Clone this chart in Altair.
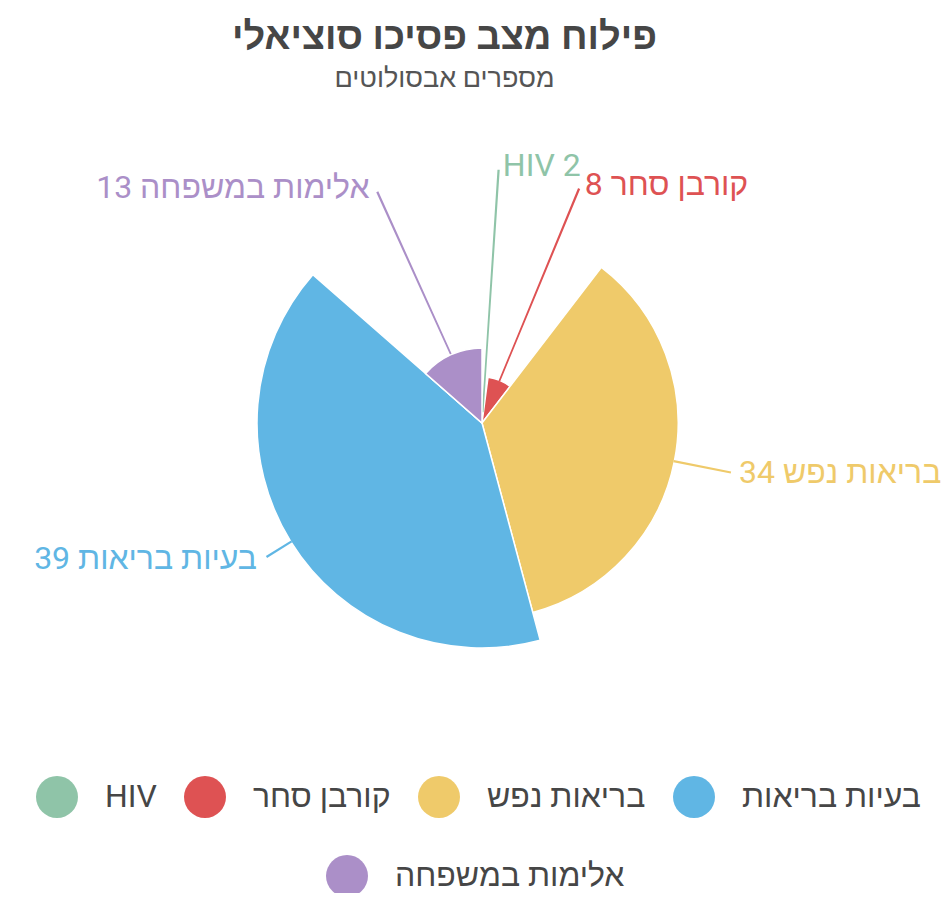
import altair as alt
import pandas as pd

categories = ["HIV", "קורבן סחר", "בריאות נפש", "בעיות בריאות", "אלימות במשפחה"]
values = [2, 8, 34, 39, 13]
colors = ["#8fc4a8", "#de5253", "#efca6a", "#60b6e4", "#ab8fc8"]
right_side = ["HIV", "קורבן סחר", "בריאות נפש"]
left_side = ["בעיות בריאות", "אלימות במשפחה"]

df = pd.DataFrame({"cat": categories, "value": values})
df["end"] = df["value"].cumsum()
df["start"] = df["end"] - df["value"]
df["mid"] = (df["start"] + df["end"]) / 2
df["lo"] = df["mid"] - 0.02
df["hi"] = df["mid"] + 0.02
df["label"] = df["cat"] + " " + df["value"].astype(str)
df["cat2"] = df["cat"]
total = sum(values)

FONT = "Roboto, Liberation Sans, sans-serif"

theta_scale = alt.Scale(domain=[0, total])
radius_scale = alt.Scale(type="linear", domain=[0, max(values)], range=[0, 225])
color_scale = alt.Scale(domain=categories, range=colors)
cx, cy = alt.value(474), alt.value(315)

legend1 = alt.Legend(
    title=None, orient="none", legendX=28, legendY=668, direction="horizontal",
    values=categories[:4], symbolType="circle", symbolSize=1764, symbolStrokeWidth=0,
    symbolOpacity=1, labelFontSize=32, labelFont=FONT, labelColor="#464646",
    labelOffset=27, columnPadding=27, labelLimit=500, padding=0,
)
legend2 = alt.Legend(
    title=None, orient="none", legendX=318, legendY=747, direction="horizontal",
    symbolType="circle", symbolSize=1764, symbolStrokeWidth=0,
    symbolOpacity=1, labelFontSize=32, labelFont=FONT, labelColor="#464646",
    labelOffset=27, columnPadding=27, labelLimit=500, padding=0,
)

base = alt.Chart(df)

arcs = base.mark_arc(stroke="white", strokeWidth=1.5).encode(
    theta=alt.Theta("start:Q", scale=theta_scale),
    theta2="end:Q",
    radius=alt.Radius("value:Q", scale=radius_scale),
    x=cx, y=cy,
    color=alt.Color("cat:N", scale=color_scale, legend=legend1),
)

lines = base.mark_arc(filled=False, strokeWidth=1.6).encode(
    theta=alt.Theta("lo:Q", scale=theta_scale),
    theta2="hi:Q",
    radius=alt.Radius("value:Q", scale=radius_scale),
    radius2=alt.value(253),
    x=cx, y=cy,
    stroke=alt.Stroke("cat:N", scale=color_scale, legend=None),
)

purple = base.transform_filter(alt.datum.cat == categories[4]).mark_arc(
    stroke="white", strokeWidth=1.5
).encode(
    theta=alt.Theta("start:Q", scale=theta_scale),
    theta2="end:Q",
    radius=alt.Radius("value:Q", scale=radius_scale),
    x=cx, y=cy,
    fill=alt.Fill("cat2:N", scale=alt.Scale(domain=[categories[4]], range=[colors[4]]), legend=legend2),
)

text_right = base.transform_filter(
    alt.FieldOneOfPredicate(field="cat", oneOf=right_side)
).mark_text(align="left", baseline="middle", fontSize=32, font=FONT, radius=258, dx=4).encode(
    theta=alt.Theta("mid:Q", scale=theta_scale),
    text="label:N",
    x=cx, y=cy,
    color=alt.Color("cat:N", scale=color_scale, legend=legend1),
)

text_left = base.transform_filter(
    alt.FieldOneOfPredicate(field="cat", oneOf=left_side)
).mark_text(align="right", baseline="middle", fontSize=32, font=FONT, radius=258, dx=-6).encode(
    theta=alt.Theta("mid:Q", scale=theta_scale),
    text="label:N",
    x=cx, y=cy,
    color=alt.Color("cat:N", scale=color_scale, legend=legend1),
)

chart = alt.layer(arcs, lines, purple, text_right, text_left).properties(
    width=933, height=785,
    padding={"top": 100, "left": 0, "right": 0, "bottom": 0},
    autosize=alt.AutoSizeParams(type="none"),
    title=alt.TitleParams(
        text="פילוח מצב פסיכו סוציאלי", subtitle="מספרים אבסולוטים",
        anchor="middle", fontSize=38, font=FONT, fontWeight="bold", color="#464646",
        subtitleFontSize=27, subtitleFont=FONT, subtitleColor="#555555",
        subtitlePadding=9, offset=16, dx=-30,
    ),
).configure_view(strokeWidth=0)

chart.save("out.html", embed_options={"renderer": "svg", "actions": False})
